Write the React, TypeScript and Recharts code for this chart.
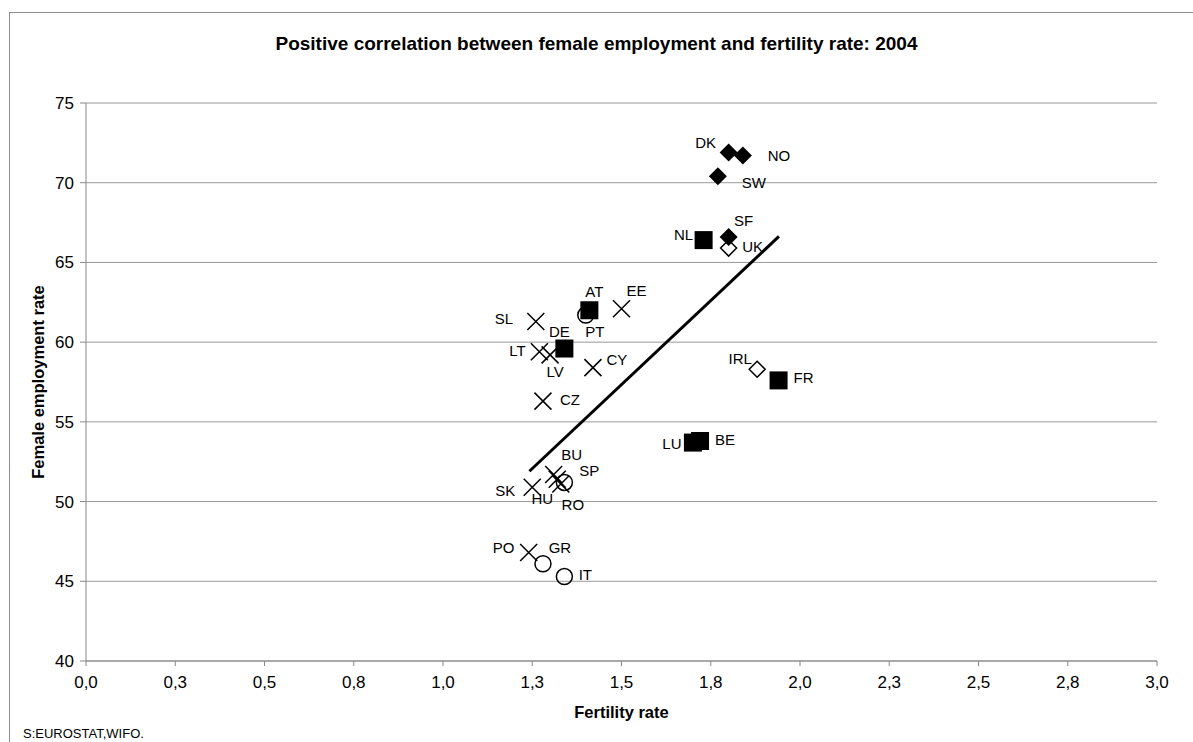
import React from "react";
import {
  CartesianGrid,
  Label,
  ReferenceLine,
  Scatter,
  ScatterChart,
  XAxis,
  YAxis,
} from "recharts";

// Nordic (filled diamond)
const nordicNames = ["DK", "NO", "SW", "SF"];
const nordicFertility = [1.8, 1.84, 1.77, 1.8];
const nordicEmployment = [71.9, 71.7, 70.4, 66.6];

// Anglo-Saxon (hollow diamond)
const angloNames = ["UK", "IRL"];
const angloFertility = [1.8, 1.88];
const angloEmployment = [65.9, 58.3];

// Continental (filled square)
const contNames = ["NL", "AT", "DE", "FR", "LU", "BE"];
const contFertility = [1.73, 1.41, 1.34, 1.94, 1.7, 1.72];
const contEmployment = [66.4, 62.0, 59.6, 57.6, 53.7, 53.8];

// Mediterranean (hollow circle)
const medNames = ["PT", "SP", "GR", "IT"];
const medFertility = [1.4, 1.34, 1.28, 1.34];
const medEmployment = [61.7, 51.2, 46.1, 45.3];

// New member states (x)
const nmsNames = ["EE", "SL", "LT", "LV", "CY", "CZ", "SK", "BU", "HU", "RO", "PO"];
const nmsFertility = [1.5, 1.26, 1.27, 1.3, 1.42, 1.28, 1.25, 1.31, 1.32, 1.33, 1.24];
const nmsEmployment = [62.1, 61.3, 59.4, 59.2, 58.4, 56.3, 50.9, 51.7, 51.4, 51.1, 46.8];

// trend line end points
const trendX = [1.242, 1.941];
const trendY = [51.9, 66.63];

const xTicks = [0, 0.25, 0.5, 0.75, 1, 1.25, 1.5, 1.75, 2, 2.25, 2.5, 2.75, 3];
const yTicks = [40, 45, 50, 55, 60, 65, 70, 75];

const FONT = "'Liberation Sans', Arial, sans-serif";

// label offset from marker centre (text centre)
const labelOffset: Record<string, [number, number]> = {
  DK: [-23, -10],
  NO: [36, 0],
  SW: [36, 6],
  SF: [15, -16],
  UK: [24, -1],
  IRL: [-17, -11],
  NL: [-20, -6],
  AT: [5, -19],
  DE: [-5, -17],
  FR: [25, -3],
  LU: [-21, 1],
  BE: [25, -1],
  PT: [9, 17],
  SP: [25, -12],
  GR: [17, -16],
  IT: [21, -2],
  EE: [15, -18],
  SL: [-32, -3],
  LT: [-22, -1],
  LV: [5, 17],
  CY: [24, -8],
  CZ: [27, -2],
  SK: [-27, 3],
  BU: [18, -20],
  HU: [-15, 19],
  RO: [12, 21],
  PO: [-25, -5],
};

const toPoints = (names: string[], xs: number[], ys: number[]) =>
  names.map((name, i) => ({ name, x: xs[i], y: ys[i] }));

function PointLabel({ cx, cy, name }: { cx: number; cy: number; name: string }) {
  const [dx, dy] = labelOffset[name] ?? [20, 0];
  return (
    <text
      x={cx + dx}
      y={cy + dy}
      dy="0.36em"
      textAnchor="middle"
      fontSize={15}
      fontFamily={FONT}
      fill="#000"
    >
      {name}
    </text>
  );
}

const makeShape =
  (kind: "diamond" | "hollowDiamond" | "square" | "circle" | "x") =>
  (props: any) => {
    const { cx, cy, payload } = props;
    let mark: React.ReactNode = null;
    if (kind === "diamond") {
      const r = 9;
      mark = (
        <polygon
          points={`${cx},${cy - r} ${cx + r},${cy} ${cx},${cy + r} ${cx - r},${cy}`}
          fill="#000"
        />
      );
    } else if (kind === "hollowDiamond") {
      const r = 8;
      mark = (
        <polygon
          points={`${cx},${cy - r} ${cx + r},${cy} ${cx},${cy + r} ${cx - r},${cy}`}
          fill="#fff"
          stroke="#000"
          strokeWidth={1.5}
        />
      );
    } else if (kind === "square") {
      const r = 9;
      mark = <rect x={cx - r} y={cy - r} width={2 * r} height={2 * r} fill="#000" />;
    } else if (kind === "circle") {
      mark = <circle cx={cx} cy={cy} r={8} fill="none" stroke="#000" strokeWidth={1.5} />;
    } else {
      const r = 8.5;
      mark = (
        <path
          d={`M${cx - r},${cy - r}L${cx + r},${cy + r}M${cx - r},${cy + r}L${cx + r},${cy - r}`}
          stroke="#000"
          strokeWidth={1.5}
          fill="none"
        />
      );
    }
    return (
      <g>
        {mark}
        <PointLabel cx={cx} cy={cy} name={payload.name} />
      </g>
    );
  };

const fmtTick = (v: number) => v.toFixed(1).replace(".", ",");

export default function App() {
  return (
    <div
      style={{
        position: "absolute",
        left: 0,
        top: 0,
        width: 1193,
        height: 742,
        overflow: "hidden",
        background: "#fff",
        fontFamily: FONT,
      }}
    >
      <div
        style={{
          position: "absolute",
          left: 9,
          top: 12,
          width: 1300,
          height: 900,
          border: "1px solid #8c8c8c",
        }}
      />
      <div
        style={{
          position: "absolute",
          left: 0,
          top: 33,
          width: 1193,
          textAlign: "center",
          fontSize: 19,
          lineHeight: "22px",
          fontWeight: "bold",
          color: "#000",
        }}
      >
        Positive correlation between female employment and fertility rate: 2004
      </div>
      <div style={{ position: "absolute", left: 0, top: 0 }}>
        <ScatterChart
          width={1193}
          height={742}
          margin={{ top: 103, right: 36, left: 0, bottom: 21 }}
        >
          <CartesianGrid vertical={false} stroke="#999" />
          <XAxis
            type="number"
            dataKey="x"
            domain={[0, 3]}
            ticks={xTicks}
            tickFormatter={fmtTick}
            height={60}
            stroke="#888"
            tickSize={5}
            tickMargin={10}
            tick={{ fill: "#000", fontSize: 17, fontFamily: FONT }}
          >
            <Label
              value="Fertility rate"
              position="insideBottom"
              offset={3}
              style={{ fontWeight: "bold", fontSize: 16.5, fill: "#000", fontFamily: FONT }}
            />
          </XAxis>
          <YAxis
            type="number"
            dataKey="y"
            domain={[40, 75]}
            ticks={yTicks}
            width={86}
            stroke="#888"
            tickSize={6}
            tickMargin={6}
            tick={{ fill: "#000", fontSize: 17, fontFamily: FONT }}
          >
            <Label
              value="Female employment rate"
              angle={-90}
              position="insideLeft"
              offset={38}
              style={{
                fontWeight: "bold",
                fontSize: 16.5,
                fill: "#000",
                fontFamily: FONT,
                textAnchor: "middle",
              }}
            />
          </YAxis>
          <ReferenceLine
            segment={[
              { x: trendX[0], y: trendY[0] },
              { x: trendX[1], y: trendY[1] },
            ]}
            stroke="#000"
            strokeWidth={3}
          />
          <Scatter
            data={toPoints(nmsNames, nmsFertility, nmsEmployment)}
            shape={makeShape("x")}
            isAnimationActive={false}
          />
          <Scatter
            data={toPoints(medNames, medFertility, medEmployment)}
            shape={makeShape("circle")}
            isAnimationActive={false}
          />
          <Scatter
            data={toPoints(angloNames, angloFertility, angloEmployment)}
            shape={makeShape("hollowDiamond")}
            isAnimationActive={false}
          />
          <Scatter
            data={toPoints(contNames, contFertility, contEmployment)}
            shape={makeShape("square")}
            isAnimationActive={false}
          />
          <Scatter
            data={toPoints(nordicNames, nordicFertility, nordicEmployment)}
            shape={makeShape("diamond")}
            isAnimationActive={false}
          />
        </ScatterChart>
      </div>
      <div
        style={{
          position: "absolute",
          left: 23,
          top: 726,
          fontSize: 13,
          lineHeight: "15px",
          color: "#000",
        }}
      >
        S:EUROSTAT,WIFO.
      </div>
    </div>
  );
}
